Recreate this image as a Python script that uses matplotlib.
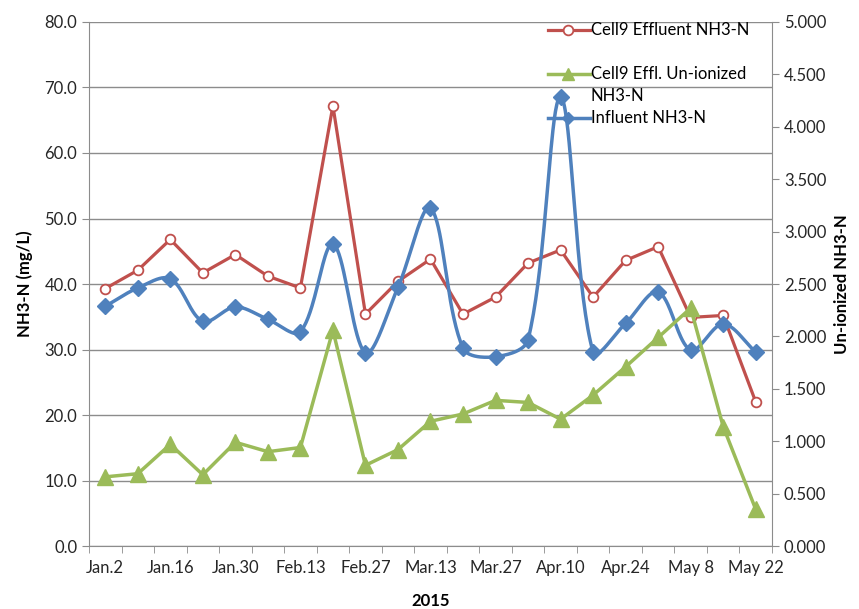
import numpy as np
import matplotlib
matplotlib.use("Agg")
import matplotlib.pyplot as plt

plt.rcParams['font.family'] = ['Lato', 'DejaVu Sans']

# weekly sampling dates, 2015
dates = ["Jan.2", "Jan.9", "Jan.16", "Jan.23", "Jan.30", "Feb.6", "Feb.13", "Feb.20",
         "Feb.27", "Mar.6", "Mar.13", "Mar.20", "Mar.27", "Apr.3", "Apr.10", "Apr.17",
         "Apr.24", "May 1", "May 8", "May 15", "May 22"]

effluent = [39.3, 42.1, 46.8, 41.7, 44.5, 41.2, 39.4, 67.2, 35.4, 40.4, 43.8,
            35.4, 38.0, 43.2, 45.2, 38.0, 43.6, 45.7, 34.9, 35.2, 22.0]
influent = [36.6, 39.4, 40.8, 34.3, 36.5, 34.6, 32.7, 46.1, 29.5, 39.5, 51.6,
            30.2, 28.9, 31.5, 68.5, 29.6, 34.0, 38.8, 29.9, 33.9, 29.6]
unionized = [0.66, 0.69, 0.97, 0.68, 0.99, 0.90, 0.94, 2.06, 0.77, 0.92, 1.19,
             1.26, 1.39, 1.37, 1.21, 1.44, 1.71, 1.99, 2.27, 1.14, 0.35]

RED = "#C0504D"
BLUE = "#4F81BD"
GREEN = "#9BBB59"
GRID = "#8C8C8C"


def smooth(x, y, yscale, n=40):
    # Excel-like smoothed line: Bezier segments, tangent weighted by segment lengths
    x = np.asarray(x, float)
    y = np.asarray(y, float)
    px = np.concatenate([[x[0]], x, [x[-1]]])
    py = np.concatenate([[y[0]], y, [y[-1]]])
    P = np.column_stack([px, py * yscale])
    t = np.linspace(0, 1, n)[:, None]
    out = []
    for i in range(1, len(P) - 2):
        p0, p1, p2, p3 = P[i - 1], P[i], P[i + 1], P[i + 2]
        d01 = np.hypot(*(p1 - p0))
        d12 = np.hypot(*(p2 - p1))
        d23 = np.hypot(*(p3 - p2))
        f1 = d12 / (d01 + d12) / 3 if d01 + d12 > 0 else 0
        f2 = d12 / (d12 + d23) / 3 if d12 + d23 > 0 else 0
        c1 = p1 + (p2 - p0) * f1
        c2 = p2 - (p3 - p1) * f2
        b = (1 - t) ** 3 * p1 + 3 * (1 - t) ** 2 * t * c1 + 3 * (1 - t) * t ** 2 * c2 + t ** 3 * p2
        out.append(b)
    b = np.vstack(out)
    return b[:, 0], b[:, 1] / yscale


x = np.arange(len(dates))

fig = plt.figure(figsize=(8.59, 6.09), dpi=100)
ax = fig.add_axes([0.1036, 0.1034, 0.7951, 0.8605])
ax2 = ax.twinx()

ax.set_ylim(0, 80)
ax.set_yticks(np.arange(0, 81, 10))
ax.set_yticklabels([f"{v:.1f}" for v in np.arange(0, 81, 10)])
ax2.set_ylim(0, 5)
ax2.set_yticks(np.arange(0, 5.01, 0.5))
ax2.set_yticklabels([f"{v:.3f}" for v in np.arange(0, 5.01, 0.5)])
ax.set_xlim(-0.5, len(dates) - 0.5)

ax.grid(axis='y', color=GRID, lw=1)
ax.set_axisbelow(True)

ax.plot(x, effluent, color=RED, lw=2.3, marker='o', ms=7, mfc='white',
        mec=RED, mew=1.3, zorder=3)
# pixel aspect: 32.5 px per week, 6.55 px per mg/L
sx, sy = smooth(x, influent, 6.55 / 32.5)
ax.plot(sx, sy, color=BLUE, lw=2.5, zorder=3)
ax.plot(x, influent, ls='none', marker='D', ms=8.5, color=BLUE, zorder=4)
ax2.plot(x, unionized, color=GREEN, lw=2.5, marker='^', ms=11, mec=GREEN,
         zorder=3)

# x axis: category axis with ticks between categories, labels every 2 weeks
ax.set_xticks(np.arange(-0.5, len(dates), 1), minor=True)
ax.set_xticks(x[::2])
ax.set_xticklabels(dates[::2])
ax.tick_params(axis='x', which='major', length=0, pad=10)
ax.tick_params(axis='x', which='minor', length=5, color=GRID, direction='out')
ax.tick_params(axis='y', length=5, color=GRID, labelsize=12, labelcolor="#262626")
ax.tick_params(axis='x', labelsize=12, labelcolor="#262626")
ax2.tick_params(axis='y', length=5, color=GRID, labelsize=12, labelcolor="#262626")

for a in (ax, ax2):
    a.spines['top'].set_visible(False)
    for s in ('left', 'right', 'bottom'):
        a.spines[s].set_color(GRID)
ax.spines['right'].set_visible(False)
ax2.spines['left'].set_visible(False)
ax2.spines['bottom'].set_visible(False)

ax.set_ylabel("NH3-N (mg/L)", fontsize=12, fontweight='bold', labelpad=8)
ax2.set_ylabel("Un-ionized NH3-N", fontsize=12, fontweight='bold', rotation=90,
               labelpad=6)
ax.set_xlabel("2015", fontsize=12, fontweight='bold', labelpad=12)

# legend drawn by hand (no frame, handle aligned with first text line)
tr = ax2.transAxes
x0, xm, x1, xt = 0.672, 0.701, 0.733, 0.735
legend_items = [
    (0.9847, dict(color=RED, lw=2.3), dict(marker='o', ms=7, mfc='white', mec=RED, mew=1.3),
     "Cell9 Effluent NH3-N"),
    (0.9008, dict(color=GREEN, lw=2.5), dict(marker='^', ms=9, color=GREEN),
     "Cell9 Effl. Un-ionized\nNH3-N"),
    (0.8168, dict(color=BLUE, lw=2.5), dict(marker='D', ms=6, color=BLUE),
     "Influent NH3-N"),
]
for yy, lkw, mkw, lab in legend_items:
    ax2.plot([x0, x1], [yy, yy], transform=tr, clip_on=False, zorder=6, **lkw)
    ax2.plot([xm], [yy], transform=tr, clip_on=False, zorder=7, ls='none', **mkw)
    ax2.text(xt, yy + 0.016, lab, transform=tr, fontsize=12, va='top', ha='left',
             color="black", zorder=8, linespacing=1.5)

fig.savefig("out.png", dpi=100)
